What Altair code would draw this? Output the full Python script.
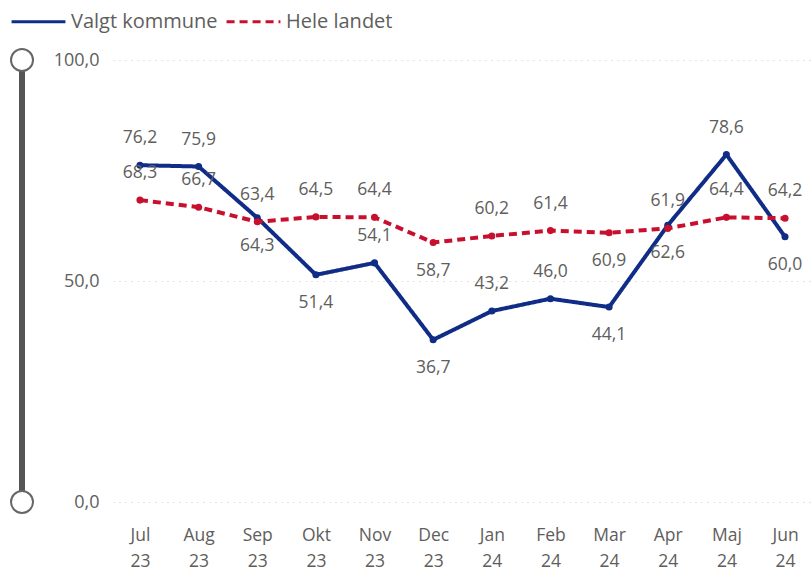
import altair as alt
import pandas as pd

months = ["Jul 23", "Aug 23", "Sep 23", "Okt 23", "Nov 23", "Dec 23",
          "Jan 24", "Feb 24", "Mar 24", "Apr 24", "Maj 24", "Jun 24"]
series_names = ["Valgt kommune", "Hele landet"]
kommune = [76.2, 75.9, 64.3, 51.4, 54.1, 36.7, 43.2, 46.0, 44.1, 62.6, 78.6, 60.0]
landet = [68.3, 66.7, 63.4, 64.5, 64.4, 58.7, 60.2, 61.4, 60.9, 61.9, 64.4, 64.2]
y_ticks = [0, 50, 100]

# label placement (over / under the point)
kommune_side = ["over", "over", "under", "under", "over", "under",
                "over", "over", "under", "under", "over", "under"]
landet_side = ["over", "over", "over", "over", "over", "under",
               "over", "over", "under", "over", "over", "over"]

rows = []
for i, m in enumerate(months):
    rows.append(dict(month=m, series=series_names[0], value=kommune[i], side=kommune_side[i]))
    rows.append(dict(month=m, series=series_names[1], value=landet[i], side=landet_side[i]))
df = pd.DataFrame(rows)

BLUE = "#0F2C86"
RED = "#C8102E"
GRAY = "#605E5C"
FONT = "Open Sans"

x_enc = alt.X("month:N", sort=months,
              scale=alt.Scale(type="point", padding=0.46),
              axis=alt.Axis(title=None, labelAngle=0, domain=False, ticks=False,
                            labelExpr="split(datum.value, ' ')",
                            labelLineHeight=26, labelFontSize=17.5, labelColor=GRAY,
                            labelFont=FONT, labelPadding=24, grid=False))
y_enc = alt.Y("value:Q", scale=alt.Scale(domain=[0, 100], nice=False),
              axis=alt.Axis(title=None, values=y_ticks, domain=False, ticks=False,
                            labelExpr="replace(format(datum.value, '.1f'), '.', ',')",
                            labelFontSize=18, labelColor=GRAY, labelFont=FONT,
                            labelPadding=14, grid=True, gridColor="#C8C8C8",
                            gridDash=[1, 5], gridWidth=1))

legend_cfg = dict(title=None, orient="none", legendX=-103, legendY=-67,
                  direction="horizontal", symbolType="stroke",
                  symbolSize=2900, symbolStrokeWidth=3,
                  labelFontSize=20, labelColor=GRAY, labelFont=FONT,
                  labelOffset=4, columnPadding=2)
color = alt.Color("series:N", scale=alt.Scale(domain=series_names, range=[BLUE, RED]),
                  legend=alt.Legend(**legend_cfg))
dash = alt.StrokeDash("series:N", scale=alt.Scale(domain=series_names, range=[[1, 0], [8, 5]]),
                      legend=alt.Legend(**legend_cfg))

base = alt.Chart(df).encode(x=x_enc, y=y_enc)

lines = base.mark_line(strokeWidth=4).encode(color=color, strokeDash=dash)
points = base.mark_circle(size=50, opacity=1).encode(
    color=alt.Color("series:N", scale=alt.Scale(domain=series_names, range=[BLUE, RED]), legend=None))

label_text = "replace(format(datum.value, '.1f'), '.', ',')"
labels_over = base.transform_filter("datum.side == 'over'").transform_calculate(
    lab=label_text).mark_text(dy=-27, fontSize=17.5, color=GRAY, font=FONT).encode(text="lab:N")
labels_under = base.transform_filter("datum.side == 'under'").transform_calculate(
    lab=label_text).mark_text(dy=28, fontSize=17.5, color=GRAY, font=FONT).encode(text="lab:N")

one = pd.DataFrame({"a": [0]})
slider_bar = alt.Chart(one).mark_rule(color="#555555", strokeWidth=6).encode(
    x=alt.value(-91), y=alt.value(0), y2=alt.value(442))
slider_top = alt.Chart(one).mark_point(filled=True, fill="white", stroke="#666666",
                                       strokeWidth=2, size=484, shape="circle", opacity=1).encode(
    x=alt.value(-91), y=alt.value(0))
slider_bot = alt.Chart(one).mark_point(filled=True, fill="white", stroke="#666666",
                                       strokeWidth=2, size=484, shape="circle", opacity=1).encode(
    x=alt.value(-91), y=alt.value(442))

chart = alt.layer(lines, points, labels_over, labels_under,
                  slider_bar, slider_top, slider_bot).properties(
    width=699, height=442,
    autosize=alt.AutoSizeParams(type="none"),
    padding={"left": 113, "top": 60, "right": 0, "bottom": 69},
    background="white",
).configure_view(stroke=None)

chart.save("out.html", embed_options={"renderer": "svg", "actions": False})
